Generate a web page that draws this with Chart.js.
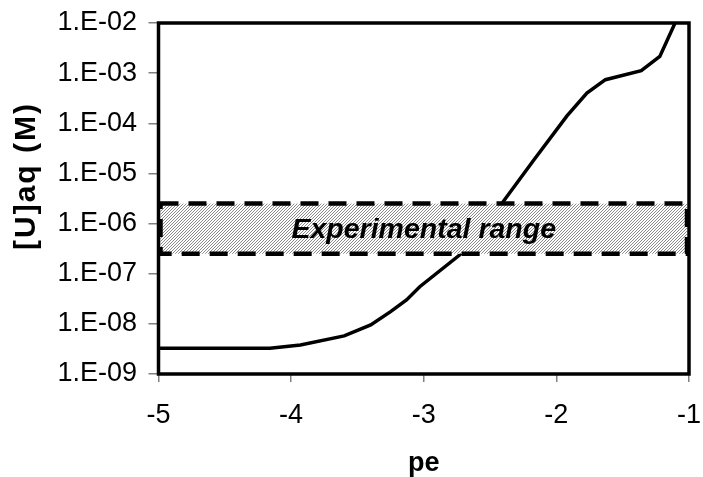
<!DOCTYPE html>
<html>
<head>
<meta charset="utf-8">
<title>Dissolved U vs pe</title>
<script src="https://cdn.jsdelivr.net/npm/chart.js@4.4.1/dist/chart.umd.min.js"></script>
<style>
  html, body { margin: 0; padding: 0; background: #fff; }
  #wrap { width: 703px; height: 477px; }
</style>
</head>
<body>
<div id="wrap"><canvas id="u-chart" width="703" height="477"></canvas></div>
<script>
// modelled dissolved uranium against pe
const peValues = [-5.0, -4.6, -4.16, -3.93, -3.6, -3.4, -3.25, -3.13, -3.03, -2.73, -2.41, -2.17, -1.92, -1.77, -1.63, -1.36, -1.22, -1.08];
const uConc = [3.25e-9, 3.25e-9, 3.25e-9, 3.8e-9, 5.75e-9, 9.5e-9, 1.75e-8, 3.0e-8, 5.5e-8, 2.35e-7, 2.55e-6, 1.85e-5, 1.4e-4, 4.0e-4, 7.4e-4, 1.12e-3, 2.15e-3, 1.4e-2];

// axis ticks
const xTicks = [-5, -4, -3, -2, -1];
const yTicks = [1e-9, 1e-8, 1e-7, 1e-6, 1e-5, 1e-4, 1e-3, 1e-2];
const yTickLabels = ['1.E-09', '1.E-08', '1.E-07', '1.E-06', '1.E-05', '1.E-04', '1.E-03', '1.E-02'];
const yTitle = '[U]aq (M)';

// measured concentration band
const rangePe = [-4.985, -1.015];
const rangeConc = [2.5e-7, 2.5e-6];
const rangeLabel = 'Experimental range';

const FONT = '"Liberation Sans", Arial, sans-serif';

function hatchPattern(ctx) {
    const c = document.createElement('canvas');
    c.width = 3;
    c.height = 3;
    const p = c.getContext('2d');
    p.fillStyle = '#fff';
    p.fillRect(0, 0, 3, 3);
    p.fillStyle = '#8a8a8a';
    for (let i = 0; i < 3; i++) p.fillRect(i, 2 - i, 1, 1);
    return ctx.createPattern(c, 'repeat');
}

// hatched band with dashed outline, drawn over the curve
const rangeBox = {
    id: 'rangeBox',
    afterDatasetsDraw(chart) {
        const { ctx, scales: { x, y } } = chart;
        const left = x.getPixelForValue(rangePe[0]);
        const right = x.getPixelForValue(rangePe[1]);
        const top = y.getPixelForValue(rangeConc[1]);
        const bottom = y.getPixelForValue(rangeConc[0]);
        ctx.save();
        ctx.fillStyle = hatchPattern(ctx);
        ctx.fillRect(left, top, right - left, bottom - top);
        ctx.setLineDash([18, 10]);
        ctx.lineWidth = 4.5;
        ctx.strokeStyle = '#000';
        ctx.strokeRect(left, top, right - left, bottom - top);
        ctx.setLineDash([]);
        ctx.font = 'italic bold 28.5px ' + FONT;
        ctx.textAlign = 'center';
        ctx.textBaseline = 'middle';
        ctx.fillStyle = '#000';
        ctx.fillText(rangeLabel, (left + right) / 2, (top + bottom) / 2 + 1);
        ctx.restore();
    }
};

// black frame round the plot area, plus the rotated y title
const frame = {
    id: 'frame',
    afterDraw(chart) {
        const { ctx, chartArea: a } = chart;
        ctx.save();
        ctx.lineWidth = 3.5;
        ctx.strokeStyle = '#000';
        ctx.strokeRect(a.left, a.top, a.right - a.left, a.bottom - a.top);
        ctx.translate(27, 176);
        ctx.rotate(-Math.PI / 2);
        ctx.font = 'bold 30px ' + FONT;
        ctx.letterSpacing = '2px';
        ctx.textAlign = 'center';
        ctx.textBaseline = 'middle';
        ctx.fillStyle = '#000';
        ctx.fillText(yTitle, 0, 0);
        ctx.restore();
    }
};

const ctx = document.getElementById('u-chart').getContext('2d');
new Chart(ctx, {
    type: 'line',
    data: {
        datasets: [{
            data: peValues.map((pe, i) => ({ x: pe, y: uConc[i] })),
            borderColor: '#000',
            borderWidth: 3.5,
            pointRadius: 0,
            tension: 0,
            clip: 0
        }]
    },
    options: {
        responsive: false,
        animation: false,
        devicePixelRatio: 1,
        layout: { padding: { top: 23, right: 14, left: 0, bottom: 0 } },
        plugins: {
            legend: { display: false },
            tooltip: { enabled: false }
        },
        scales: {
            x: {
                type: 'linear',
                min: -5,
                max: -1,
                afterFit: scale => {
                    scale.height = 103;
                    scale.paddingLeft = 0;
                    scale.paddingRight = 0;
                },
                afterBuildTicks: scale => { scale.ticks = xTicks.map(v => ({ value: v })); },
                ticks: {
                    color: '#000',
                    font: { family: FONT, size: 27 },
                    padding: 17,
                    maxRotation: 0,
                    callback: v => String(v)
                },
                grid: { drawOnChartArea: false, drawTicks: true, tickLength: 8, color: '#808080', lineWidth: 1.5 },
                border: { display: false },
                title: {
                    display: true,
                    text: 'pe',
                    color: '#000',
                    font: { family: FONT, size: 27, weight: 'bold', lineHeight: 1 },
                    padding: { top: 0, bottom: 0 }
                }
            },
            y: {
                type: 'logarithmic',
                min: 1e-9,
                max: 1e-2,
                afterFit: scale => {
                    scale.width = 158.5;
                    scale.paddingTop = 0;
                    scale.paddingBottom = 0;
                },
                afterBuildTicks: scale => { scale.ticks = yTicks.map(v => ({ value: v })); },
                ticks: {
                    color: '#000',
                    font: { family: FONT, size: 27 },
                    padding: 11.5,
                    callback: value => {
                        const i = yTicks.findIndex(t => Math.abs(Math.log10(t) - Math.log10(value)) < 1e-6);
                        return i >= 0 ? yTickLabels[i] : '';
                    }
                },
                grid: { drawOnChartArea: false, drawTicks: true, tickLength: 10, color: '#808080', lineWidth: 1.5 },
                border: { display: false },
                title: { display: false }
            }
        }
    },
    plugins: [rangeBox, frame]
});
</script>
</body>
</html>
